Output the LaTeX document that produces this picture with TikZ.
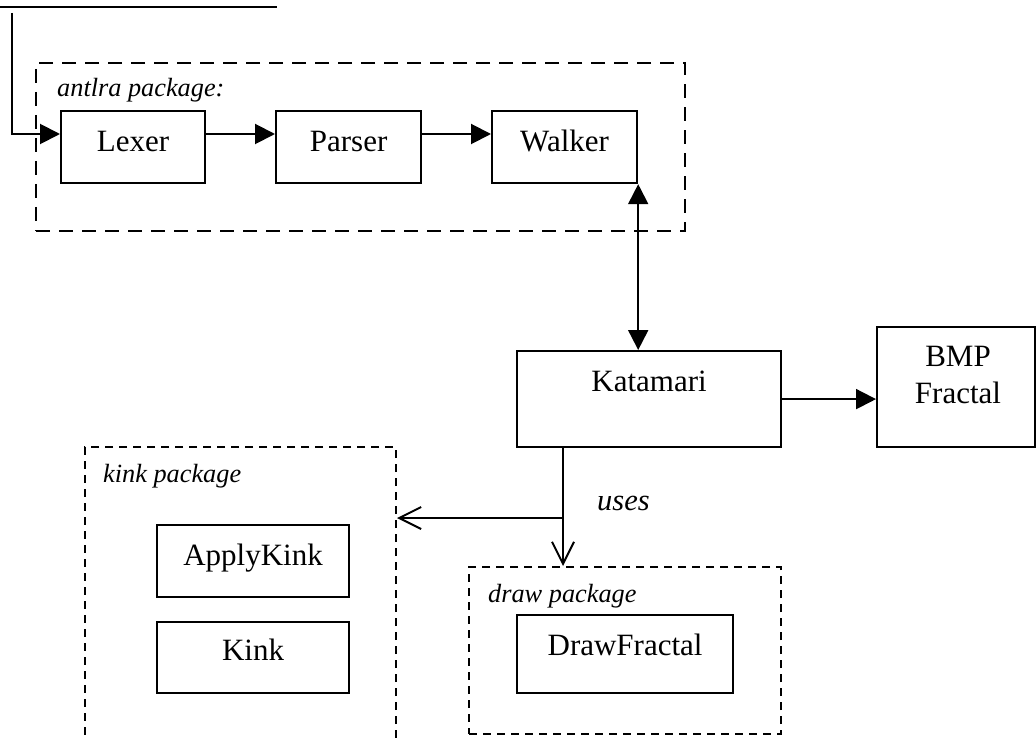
\documentclass[tikz,border=0pt]{standalone}
\usepackage{fontspec}
\setmainfont{Liberation Serif}
\usetikzlibrary{arrows.meta,calc}
\begin{document}
\begin{tikzpicture}[x=1pt,y=-1pt,
  box/.style={draw, line width=2.2pt, inner sep=0pt, anchor=north west},
  pkgA/.style={draw, line width=2pt, dash pattern=on 14pt off 9pt, inner sep=0pt, anchor=north west},
  pkgB/.style={draw, line width=2pt, dash pattern=on 8pt off 6pt, inner sep=0pt, anchor=north west},
  txt/.style={font=\fontsize{31}{36}\selectfont, anchor=base, inner sep=0pt},
  lbl/.style={font=\fontsize{26.3}{30}\selectfont\itshape, anchor=base west, inner sep=0pt},
  usesl/.style={font=\fontsize{30.5}{36}\selectfont\itshape, anchor=base west, inner sep=0pt},
  conn/.style={line width=2pt, -{Triangle[length=20pt,width=20pt]}},
  dbl/.style={line width=2pt, {Triangle[length=20pt,width=20pt]}-{Triangle[length=20pt,width=20pt]}},
  opn/.style={line width=2pt, -{Straight Barb[length=22pt,width=22pt]}}
]
\clip (0,0) rectangle (1036,738);
% bottom edge of a box cut off at the top
\coordinate (inpl) at (0,7);
\coordinate (inpr) at (277,7);
\draw[line width=2.2pt] (inpl) -- (inpr);
\coordinate (src) at (12,13);
% antlra package
\node[pkgA, minimum width=649pt, minimum height=168pt] (antlr) at (35,62) {};
\node[lbl] (antlrl) at (57,97) {antlra package:};
\node[box, minimum width=144pt, minimum height=72pt] (lex) at (60,110) {};
\node[txt] (lext) at ($(lex.north)+(0,42)$) {Lexer};
\node[box, minimum width=145pt, minimum height=72pt] (par) at (275,110) {};
\node[txt] (part) at ($(par.north)+(0,42)$) {Parser};
\node[box, minimum width=145pt, minimum height=72pt] (wal) at (491,110) {};
\node[txt] (walt) at ($(wal.north)+(0,42)$) {Walker};
% Katamari and BMP
\node[box, minimum width=264pt, minimum height=96pt] (kat) at (516,350) {};
\node[txt] (katt) at ($(kat.north)+(0,41)$) {Katamari};
\node[box, minimum width=158pt, minimum height=120pt] (bmp) at (876,326) {};
\node[txt] (bmpt1) at (958,366) {BMP};
\node[txt] (bmpt2) at (958,403) {Fractal};
% kink package
\node[pkgB, minimum width=311pt, minimum height=330pt] (kink) at (84,446) {};
\node[lbl] (kinkl) at (103,482) {kink package};
\node[box, minimum width=192pt, minimum height=72pt] (ak) at (156,524) {};
\node[txt] (akt) at ($(ak.north)+(0,41)$) {ApplyKink};
\node[box, minimum width=192pt, minimum height=71pt] (kk) at (156,621) {};
\node[txt] (kkt) at ($(kk.north)+(0,39)$) {Kink};
% draw package
\node[pkgB, minimum width=312pt, minimum height=167pt] (drw) at (468,566) {};
\node[lbl] (drwl) at (488,602) {draw package};
\node[box, minimum width=216pt, minimum height=78pt] (df) at (516,614) {};
\node[txt] (dft) at ($(df.north)+(0,41)$) {DrawFractal};
\node[usesl] (uses) at (597,510) {uses};
% connectors
\draw[conn] (src) |- ([yshift=-24pt]lex.north west);
\draw[conn] ([yshift=-24pt]lex.north east) -- ([yshift=-24pt]par.north west);
\draw[conn] ([yshift=-24pt]par.north east) -- ([yshift=-24pt]wal.north west);
\draw[dbl] (wal.south east) -- (wal.south east |- kat.north);
\draw[conn] (kat.east) -- (kat.east -| bmp.west);
\coordinate (br) at (563,518);
\draw[opn] (kat.south -| br) -- (br |- drw.north);
\draw[opn] (br) -- (br -| kink.east);
\end{tikzpicture}
\end{document}
